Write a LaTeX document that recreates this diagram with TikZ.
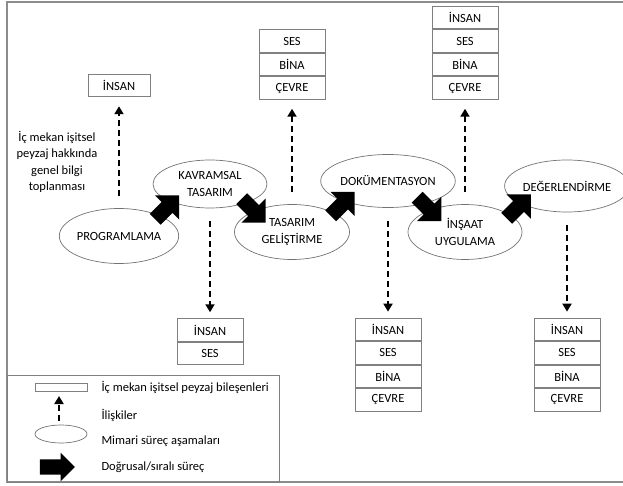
\documentclass[tikz,border=0pt]{standalone}
\usepackage{fontspec}
\setmainfont{Carlito}
\usetikzlibrary{shapes.geometric,shapes.arrows,arrows.meta,calc}
\begin{document}
\begin{tikzpicture}[x=1pt,y=-1pt,
  font=\fontsize{12.5}{16.5}\selectfont,
  frame/.style={draw=black!45,line width=1.2pt},
  stage/.style={ellipse,draw=black!55,line width=0.7pt,inner sep=0pt,align=center},
  comp/.style={draw=black!50,line width=0.8pt,minimum width=66pt,minimum height=22.7pt,inner sep=0pt},
  rel/.style={line width=1.8pt,dash pattern=on 6pt off 4pt,-{Triangle[length=8pt,width=9pt]}},
  relup/.style={rel,shorten <=12pt,shorten >=9pt},
  reldown/.style={rel,shorten <=13pt,shorten >=6pt},
  flow/.style={single arrow,fill=black,draw=none,minimum height=34pt,
    inner xsep=0pt,inner ysep=7.5pt,single arrow head extend=9.5pt}
]
\useasboundingbox (0,0) rectangle (623,486);

% outer frame and legend frame
\draw[frame] (623,2) -- (7,2) -- (7,482) -- (623,482);
\draw[draw=black!50,line width=0.9pt] (7,375) rectangle (279,482);

% design stages
\node[stage,minimum width=112pt,minimum height=55pt] (prog) at (119,236) {PROGRAMLAMA};
\node[stage,minimum width=114pt,minimum height=48pt] (kavr) at (210,184) {KAVRAMSAL\\TASARIM};
\node[stage,minimum width=115pt,minimum height=55pt] (tgel) at (292,232) {TASARIM\\GELİŞTİRME};
\node[stage,minimum width=117pt,minimum height=53pt] (doku) at (388,181) {DOKÜMENTASYON};
\node[stage,minimum width=114pt,minimum height=55pt] (insa) at (465,232) {İNŞAAT\\UYGULAMA};
\node[stage,minimum width=110pt,minimum height=52pt] (dege) at (567,186) {DEĞERLENDİRME};

% sequential process arrows
\node[flow,rotate=45]  (f1) at ($(prog)!0.5!(kavr)$) {};
\node[flow,rotate=-45] (f2) at ($(kavr)!0.5!(tgel)$) {};
\node[flow,rotate=45]  (f3) at ($(tgel)!0.5!(doku)$) {};
\node[flow,rotate=-45] (f4) at ($(doku)!0.5!(insa)$) {};
\node[flow,rotate=45]  (f5) at ($(insa)!0.5!(dege)$) {};

% note
\node[align=center] (note) at (57,162) {İç mekan işitsel\\peyzaj hakkında\\genel bilgi\\toplanması};

% component boxes above
\node[comp,minimum width=62pt] (pA) at (119,85.5) {İNSAN};

\node[comp] (tA) at (292,41) {SES};
\node[comp,anchor=north] (tB) at (tA.south) {BİNA};
\node[comp,anchor=north] (tC) at (tB.south) {ÇEVRE};

\node[comp] (iA) at (465,17.5) {İNSAN};
\node[comp,anchor=north] (iB) at (iA.south) {SES};
\node[comp,anchor=north] (iC) at (iB.south) {BİNA};
\node[comp,anchor=north] (iD) at (iC.south) {ÇEVRE};

% component boxes below
\node[comp] (kA) at (210,330) {İNSAN};
\node[comp,anchor=north] (kB) at (kA.south) {SES};

\node[comp] (dA) at (388,329.4) {İNSAN};
\node[comp,anchor=north] (dB) at (dA.south) {SES};
\node[comp,anchor=north] (dC) at (dB.south) {BİNA};
\node[comp,anchor=north] (dD) at (dC.south) {ÇEVRE};

\node[comp] (eA) at (567,329.4) {İNSAN};
\node[comp,anchor=north] (eB) at (eA.south) {SES};
\node[comp,anchor=north] (eC) at (eB.south) {BİNA};
\node[comp,anchor=north] (eD) at (eC.south) {ÇEVRE};

% relations
\draw[relup] (prog.north) -- (pA.south);
\draw[relup] (tgel.north) -- (tC.south);
\draw[relup] (insa.north) -- (iD.south);
\draw[reldown] (kavr.south) -- (kA.north);
\draw[reldown] (doku.south) -- (dA.north);
\draw[reldown] (dege.south) -- (eA.north);

% legend
\node[draw=black!50,line width=0.8pt,minimum width=52pt,minimum height=8pt,inner sep=0pt] (lgbox) at (61,387) {};
\node[anchor=west] (lt1) at (98,387) {İç mekan işitsel peyzaj bileşenleri};
\coordinate (lga) at (59,421);
\coordinate (lgb) at (59,396);
\draw[rel] (lga) -- (lgb);
\node[anchor=west] (lt2) at (98,415) {İlişkiler};
\node[stage,minimum width=52pt,minimum height=18pt] (lgell) at (61,434) {};
\node[anchor=west] (lt3) at (98,441) {Mimari süreç aşamaları};
\node[flow,minimum height=35pt,inner ysep=7.5pt,single arrow head extend=6.5pt] (lgarr) at (53.5,467) {};
\node[anchor=west] (lt4) at (98,467) {Doğrusal/sıralı süreç};
\end{tikzpicture}
\end{document}
